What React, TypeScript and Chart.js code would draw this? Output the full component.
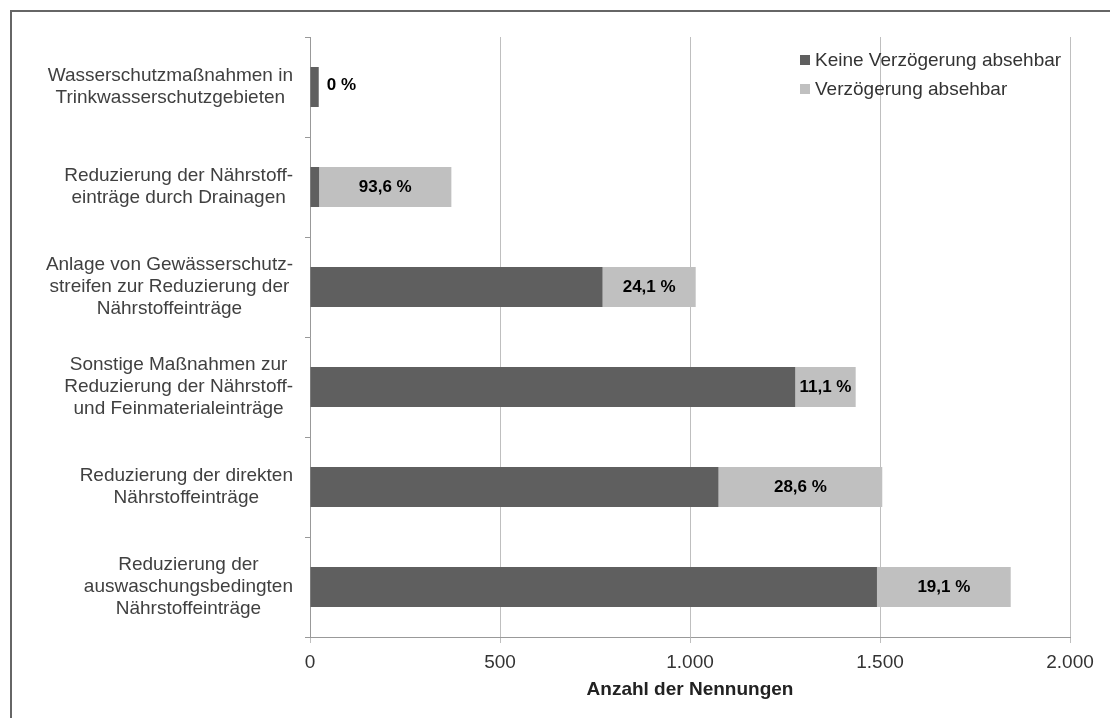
import React, { useEffect, useRef } from "react";
import { Chart, registerables } from "chart.js";

Chart.register(...registerables);

const categories: string[][] = [
  ["Wasserschutzmaßnahmen in", "Trinkwasserschutzgebieten"],
  ["Reduzierung der Nährstoff-", "einträge durch Drainagen"],
  ["Anlage von Gewässerschutz-", "streifen zur Reduzierung der", "Nährstoffeinträge"],
  ["Sonstige Maßnahmen zur", "Reduzierung der Nährstoff-", "und Feinmaterialeinträge"],
  ["Reduzierung der direkten", "Nährstoffeinträge"],
  ["Reduzierung der", "auswaschungsbedingten", "Nährstoffeinträge"],
];

const noDelay: number[] = [23, 24, 770, 1277, 1075, 1492];
const delay: number[] = [0, 348, 245, 159, 431, 352];
const pctLabels: string[] = ["0 %", "93,6 %", "24,1 %", "11,1 %", "28,6 %", "19,1 %"];
const seriesNames: string[] = ["Keine Verzögerung absehbar", "Verzögerung absehbar"];
const seriesColors: string[] = ["#5f5f5f", "#c0c0c0"];
const xTicks: number[] = [0, 500, 1000, 1500, 2000];
const axisTitle = "Anzahl der Nennungen";

const FONT = '"Liberation Sans", Arial, sans-serif';

const fmt = (v: number) => String(v).replace(/\B(?=(\d{3})+(?!\d))/g, ".");

const frame = {
  id: "frame",
  beforeDraw(chart: any) {
    const ctx = chart.ctx;
    ctx.save();
    ctx.fillStyle = "#ffffff";
    ctx.fillRect(0, 0, chart.width, chart.height);
    ctx.strokeStyle = "#666666";
    ctx.lineWidth = 2;
    ctx.strokeRect(11, 11, chart.width + 10, chart.height + 10);
    ctx.restore();
  },
};

const extras = {
  id: "extras",
  afterDraw(chart: any) {
    const ctx = chart.ctx;
    const yScale = chart.scales.y;
    const area = chart.chartArea;
    ctx.save();
    ctx.font = `19px ${FONT}`;
    ctx.fillStyle = "#404040";
    ctx.textBaseline = "middle";
    ctx.textAlign = "center";
    const right = area.left - 17;
    const lh = 22;
    categories.forEach((lines, i) => {
      const cy = yScale.getPixelForValue(i);
      const maxW = Math.max(...lines.map((l) => ctx.measureText(l).width));
      const cx = right - maxW / 2;
      lines.forEach((l, j) => {
        ctx.fillText(l, cx, cy + (j - (lines.length - 1) / 2) * lh);
      });
    });
    const m0 = chart.getDatasetMeta(0);
    const m1 = chart.getDatasetMeta(1);
    ctx.font = `bold 17px ${FONT}`;
    ctx.fillStyle = "#000000";
    pctLabels.forEach((t, i) => {
      const e1 = m1.data[i];
      const e0 = m0.data[i];
      if (delay[i] > 0) {
        ctx.textAlign = "center";
        ctx.fillText(t, (e1.x + e1.base) / 2, e1.y);
      } else {
        ctx.textAlign = "left";
        ctx.fillText(t, e0.x + 8, e0.y - 2);
      }
    });
    ctx.font = `19px ${FONT}`;
    ctx.textAlign = "left";
    const lx = area.right - 270;
    const ly = [60, 89];
    seriesNames.forEach((n, i) => {
      ctx.fillStyle = seriesColors[i];
      ctx.fillRect(lx, ly[i] - 5, 10, 10);
      ctx.fillStyle = "#333333";
      ctx.fillText(n, lx + 15, ly[i] + 1);
    });
    ctx.restore();
  },
};

export default function App() {
  const ref = useRef<HTMLCanvasElement | null>(null);
  useEffect(() => {
    document.body.style.margin = "0";
    if (!ref.current) return;
    const chart = new Chart(ref.current, {
      type: "bar",
      data: {
        labels: categories.map((c) => c.join(" ")),
        datasets: [
          { label: seriesNames[0], data: noDelay, backgroundColor: seriesColors[0], borderWidth: 0 },
          { label: seriesNames[1], data: delay, backgroundColor: seriesColors[1], borderWidth: 0 },
        ],
      },
      options: {
        indexAxis: "y",
        animation: false,
        responsive: false,
        devicePixelRatio: 1,
        layout: { padding: { left: 10, right: 40, top: 37, bottom: 0 } },
        datasets: { bar: { barPercentage: 0.4, categoryPercentage: 1 } },
        plugins: { legend: { display: false }, tooltip: { enabled: false } },
        scales: {
          x: {
            stacked: true,
            min: 0,
            max: 2000,
            afterBuildTicks: (s: any) => {
              s.ticks = xTicks.map((v) => ({ value: v }));
            },
            afterFit: (s: any) => {
              s.height = 81;
            },
            ticks: {
              callback: (v: any) => fmt(Number(v)),
              font: { family: FONT, size: 19 },
              color: "#333333",
              padding: 8,
            },
            grid: { color: "#bfbfbf", tickLength: 6, drawTicks: true },
            border: { display: true, color: "#999999" },
            title: {
              display: true,
              text: axisTitle,
              font: { family: FONT, size: 19, weight: "bold" },
              color: "#222222",
              padding: { top: 0, bottom: 17 },
            },
          },
          y: {
            stacked: true,
            afterFit: (s: any) => {
              s.width = 300;
            },
            ticks: { display: false },
            grid: { drawOnChartArea: false, drawTicks: true, tickLength: 5, color: "#999999" },
            border: { display: true, color: "#999999" },
          },
        },
      },
      plugins: [frame, extras],
    } as any);
    return () => chart.destroy();
  }, []);
  return <canvas ref={ref} width={1110} height={718} style={{ display: "block" }} />;
}
